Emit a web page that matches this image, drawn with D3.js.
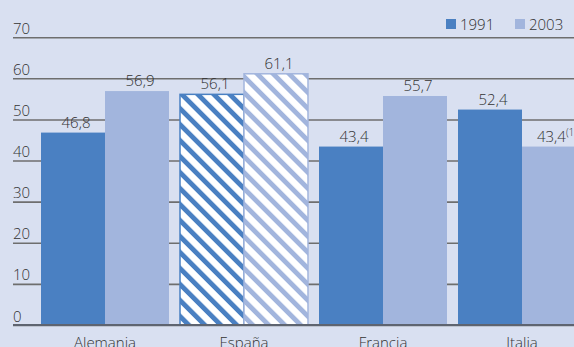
<!DOCTYPE html>
<html>
<head>
<meta charset="utf-8">
<script src="https://cdn.jsdelivr.net/npm/d3@7"></script>
<style>
  html, body { margin: 0; padding: 0; background: #d9e0f1; }
  svg { display: block; }
  text { font-family: "Open Sans", "Noto Sans", sans-serif; font-weight: 300; fill: #333333; }
</style>
</head>
<body>
<svg id="chart" width="574" height="347"></svg>
<script>
// Data
const categories = ["Alemania", "España", "Francia", "Italia"];
const series = ["1991", "2003"];
const values1991 = [46.8, 56.1, 43.4, 52.4];
const values2003 = [56.9, 61.1, 55.7, 43.4];
const notes2003 = ["", "", "", "(1)"];
const yTicks = [0, 10, 20, 30, 40, 50, 60, 70];
const hatched = ["España"];

const W = 574, H = 347;
const colors = { "1991": "#4a80c2", "2003": "#a2b5dd" };

const svg = d3.select("#chart");
svg.append("rect").attr("width", W).attr("height", H).attr("fill", "#d9e0f1");

// Diagonal hatch patterns for the highlighted category
const defs = svg.append("defs");
series.forEach(s => {
  const p = defs.append("pattern")
    .attr("id", "hatch-" + s)
    .attr("patternUnits", "userSpaceOnUse")
    .attr("width", 11.3).attr("height", 11.3)
    .attr("patternTransform", "rotate(-45)");
  p.append("rect").attr("width", 11.3).attr("height", 11.3).attr("fill", "#ffffff");
  p.append("rect").attr("x", 0).attr("width", 4.8).attr("height", 11.3).attr("fill", colors[s]);
});

// Scales
const y = d3.scaleLinear().domain([0, 70]).range([325, 37.2]);
const step = 139, innerPad = 11;
const x0 = d3.scaleBand().domain(categories)
  .range([41 - innerPad / 2, 41 - innerPad / 2 + step * categories.length])
  .paddingInner(innerPad / step).paddingOuter(innerPad / step / 2);
const x1 = d3.scaleBand().domain(series).range([0, x0.bandwidth()]);

// Gridlines with labels
const yAxis = d3.axisRight(y).tickValues(yTicks).tickSize(W - 13).tickFormat(d3.format("d"));
const gy = svg.append("g").attr("transform", "translate(13,0)").call(yAxis);
gy.select(".domain").remove();
gy.selectAll(".tick line").attr("stroke", "#6e6e6e").attr("stroke-width", 1.6);
gy.selectAll(".tick text")
  .attr("x", 0).attr("dy", "-4").attr("y", 0)
  .attr("text-anchor", "start")
  .style("font-size", "15px").style("fill", "#333333");

// Bars
const rows = categories.map((c, i) => ({ cat: c, vals: [
  { s: "1991", v: values1991[i], note: "" },
  { s: "2003", v: values2003[i], note: notes2003[i] }
]}));

const fmt = v => d3.format(".1f")(v).replace(".", ",");

const groups = svg.append("g").selectAll("g").data(rows).join("g")
  .attr("transform", d => `translate(${x0(d.cat)},0)`);

groups.selectAll("rect").data(d => d.vals.map(v => ({ ...v, cat: d.cat }))).join("rect")
  .attr("x", d => x1(d.s))
  .attr("width", x1.bandwidth())
  .attr("y", d => y(d.v))
  .attr("height", d => y(0) - y(d.v))
  .attr("fill", d => hatched.includes(d.cat) ? `url(#hatch-${d.s})` : colors[d.s])
  .attr("stroke", d => hatched.includes(d.cat) ? colors[d.s] : "none")
  .attr("stroke-width", 1.5);

// Value labels
const lbl = groups.selectAll("text.val").data(d => d.vals).join("text")
  .attr("class", "val")
  .attr("x", d => x1(d.s) + x1.bandwidth() / 2 + 3)
  .attr("y", d => y(d.v) - 5)
  .attr("text-anchor", "middle")
  .style("font-size", "15px");
lbl.append("tspan").text(d => fmt(d.v));
lbl.filter(d => d.note).append("tspan")
  .attr("dy", "-6").style("font-size", "10px")
  .text(d => d.note);

// Baseline
svg.append("line").attr("x1", 13).attr("x2", W).attr("y1", y(0)).attr("y2", y(0))
  .attr("stroke", "#5e6470").attr("stroke-width", 1.8);

// Category axis
const xAxis = d3.axisBottom(x0).tickSize(0).tickPadding(0);
const gx = svg.append("g").attr("transform", `translate(0,${y(0)})`).call(xAxis);
gx.select(".domain").remove();
gx.selectAll(".tick text").attr("dy", "0").attr("y", 23)
  .style("font-size", "15px").style("fill", "#333333");

// Legend
const leg = svg.append("g");
const legX = [446, 515];
series.forEach((s, i) => {
  leg.append("rect").attr("x", legX[i]).attr("y", 19).attr("width", 10).attr("height", 10)
    .attr("fill", colors[s]);
  leg.append("text").attr("x", legX[i] + 14).attr("y", 29.5)
    .style("font-size", "15px").text(s);
});
</script>
</body>
</html>
